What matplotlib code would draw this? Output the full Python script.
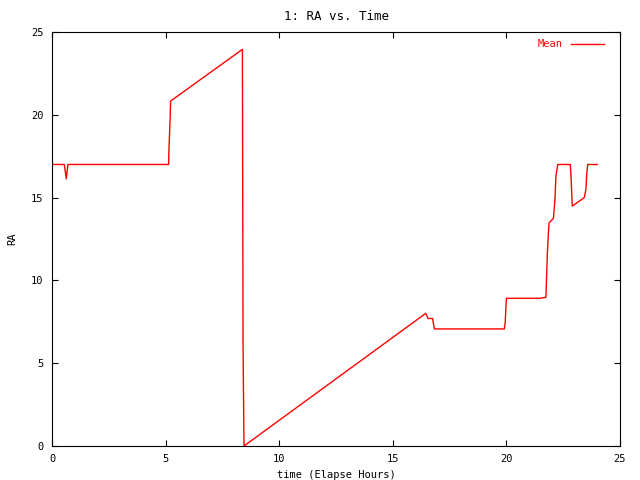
import numpy as np
import matplotlib.pyplot as plt

# time (elapsed hours) and RA values
hours = [0.0, 0.54, 0.63, 0.70, 5.13, 5.15, 5.20, 5.22, 8.38, 8.39, 8.41, 8.45,
         16.45, 16.55, 16.75, 16.83, 19.91, 19.95, 19.98, 20.0, 21.49, 21.74,
         21.76, 21.80, 21.85, 21.88, 22.07, 22.14, 22.18, 22.26, 22.81, 22.84,
         22.90, 23.43, 23.50, 23.54, 23.58, 24.0]
ra = [17.0, 17.0, 16.14, 17.0, 17.0, 18.0, 19.8, 20.83, 23.95, 18.0, 6.0, 0.0,
      8.01, 7.7, 7.7, 7.07, 7.07, 7.5, 8.45, 8.92, 8.92, 8.98,
      9.86, 11.53, 12.94, 13.48, 13.75, 14.96, 16.3, 17.0, 17.0, 16.4,
      14.49, 15.0, 15.5, 16.5, 17.0, 17.0]

plt.rcParams['font.family'] = 'DejaVu Sans Mono'
plt.rcParams['font.size'] = 7.5

fig = plt.figure(figsize=(6.4, 4.8), dpi=100)
ax = fig.add_axes([52 / 640, 34 / 480, 568 / 640, 414 / 480])

ax.plot(hours, ra, color='red', linewidth=1, label='Mean')

ax.set_xlim(0, 25)
ax.set_ylim(0, 25)
ax.set_xticks(np.arange(0, 26, 5))
ax.set_yticks(np.arange(0, 26, 5))
ax.tick_params(direction='in', top=True, right=True, length=4.5, width=0.8, pad=6)
for s in ax.spines.values():
    s.set_linewidth(0.8)

ax.set_title('1: RA vs. Time', pad=9)
ax.set_xlabel('time (Elapse Hours)', labelpad=4)
ax.set_ylabel('RA', labelpad=10)

leg = ax.legend(loc='upper right', bbox_to_anchor=(0.985, 1.0), frameon=False,
                markerfirst=False, handlelength=3.2, borderaxespad=0.3,
                handletextpad=0.8)
for t in leg.get_texts():
    t.set_color('red')

fig.savefig('out.png', dpi=100)
